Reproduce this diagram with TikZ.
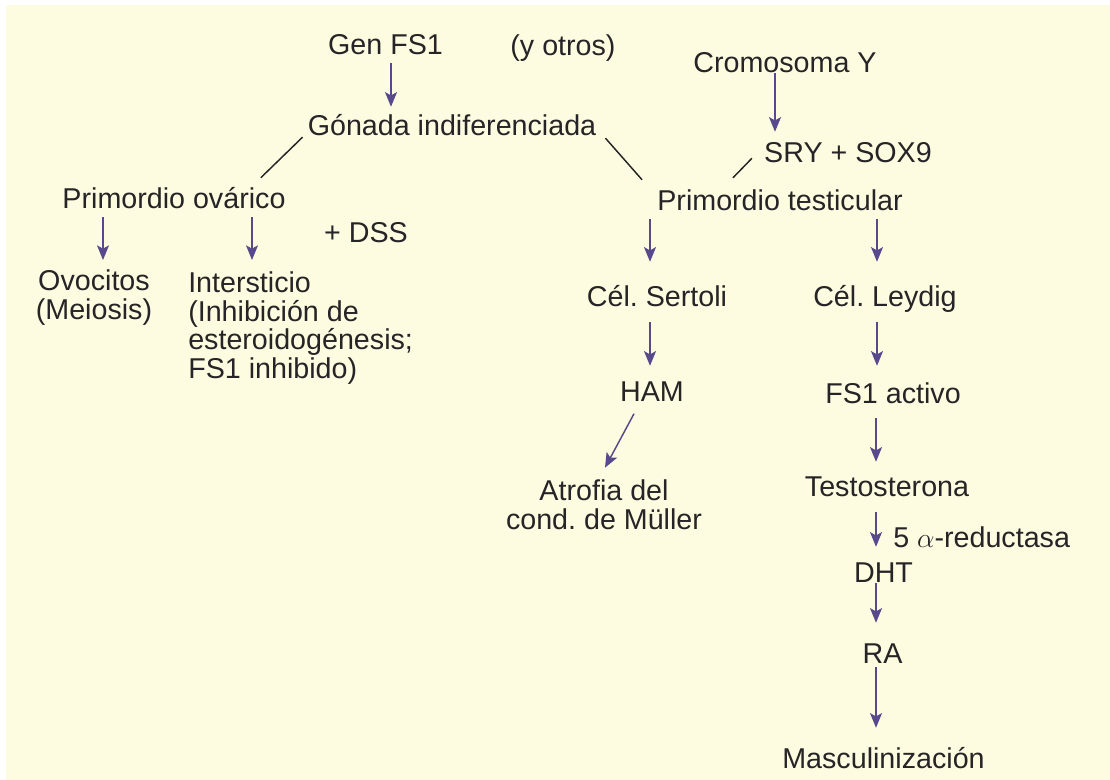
\documentclass[tikz,border=0pt]{standalone}
\usepackage{fontspec}
\setmainfont{Liberation Sans}
\usetikzlibrary{arrows.meta,calc}

\definecolor{papel}{RGB}{253,252,224}
\definecolor{tinta}{RGB}{38,36,38}
\definecolor{flecha}{RGB}{88,72,140}

\begin{document}
\frenchspacing
\begin{tikzpicture}[x=0.75pt,y=0.75pt,yscale=-1,xscale=1,
  txt/.style={inner sep=0pt,text=tinta,font=\fontsize{21.5}{21.5}\selectfont,text height=15.7pt,text depth=4.5pt},
  txtb/.style={inner sep=0pt,text=tinta,font=\fontsize{21.5}{21.5}\selectfont},
  arr/.style={draw=flecha,line width=1.1pt,-{Stealth[length=11pt,width=9pt,inset=2.5pt]}},
  lnk/.style={draw=tinta,line width=1.1pt}]
\path[use as bounding box] (0,0) rectangle (1110,780);
\fill[white] (0,0) rectangle (1110,780);
\fill[papel] (6,5) rectangle (1110,780);

% Text Node
\node[txt] (gen) at (385.5,47) {Gen FS1};
% Text Node
\node[txt] (otros) at (563,48) {(y otros)};
% Text Node
\node[txt] (cromo) at (785,65) {Cromosoma Y};
% Text Node
\node[txt] (gonada) at (452,128) {Gónada indiferenciada};
% Text Node
\node[txt] (sry) at (848,155) {SRY + SOX9};
% Text Node
\node[txt] (povar) at (174,201) {Primordio ovárico};
% Text Node
\node[txt] (dss) at (366,235) {+ DSS};
% Text Node
\node[txt] (ptest) at (780,203) {Primordio testicular};
% Text Node
\node[txtb,anchor=north,align=center] (ovoc) at (94,269.5) {Ovocitos\\(Meiosis)};
% Text Node
\node[txtb,anchor=north west,align=left] (inter) at (188,271.5) {Intersticio\\(Inhibición de\\esteroidogénesis;\\FS1 inhibido)};
% Text Node
\node[txt] (sertoli) at (657,299) {Cél. Sertoli};
% Text Node
\node[txt] (leydig) at (885,299) {Cél. Leydig};
% Text Node
\node[txt] (ham) at (652,394) {HAM};
% Text Node
\node[txt] (fsact) at (893,396) {FS1 activo};
% Text Node
\node[txtb,anchor=north,align=center] (atrofia) at (604,479.7) {Atrofia del\\cond. de Müller};
% Text Node
\node[txt] (testo) at (887,489) {Testosterona};
% Text Node
\node[txt,anchor=west] (reduct) at (893,540) {5 $\alpha$-reductasa};
% Text Node
\node[txt] (dht) at (883.5,575) {DHT};
% Text Node
\node[txt] (ra) at (882.5,656) {RA};
% Text Node
\node[txt] (masc) at (883.5,761) {Masculinización};

%Straight Lines
\draw[lnk] ($(gonada.south west)+(-5,-4.5)$) -- ($(povar.north east)+(-25,-9.5)$);
\draw[lnk] ($(gonada.south east)+(9,-3.5)$) -- ($(ptest.north west)+(-15,-9.5)$);
\draw[lnk] ($(sry.south west)+(-12,-10.5)$) -- ($(ptest.north)+(-47,-11.5)$);
\draw[arr] ($(ham.south)+(-18,6)$) -- ($(atrofia.north)+(1,-12)$);

%Arrows
\draw[arr] ($(gen.south)+(5.5,2.5)$) -- ($(gen.south |- gonada.north)+(5.5,-7.5)$);
\draw[arr] ($(cromo.south)+(-10,-5.5)$) -- ($(cromo.south |- sry.north)+(-10,-9.5)$);
\draw[arr] ($(ovoc.north |- povar.south)+(9,2.5)$) -- ($(ovoc.north)+(9,-9.5)$);
\draw[arr] ($(inter.north west |- povar.south)+(64,2.5)$) -- ($(inter.north west)+(64,-11.5)$);
\draw[arr] ($(sertoli.north |- ptest.south)+(-7,2.5)$) -- ($(sertoli.north)+(-7,-23.5)$);
\draw[arr] ($(leydig.north |- ptest.south)+(-8,2.5)$) -- ($(leydig.north)+(-8,-23.5)$);
\draw[arr] ($(sertoli.south)+(-7,9.5)$) -- ($(sertoli.south |- ham.north)+(-7,-14.5)$);
\draw[arr] ($(leydig.south)+(-8,9.5)$) -- ($(leydig.south |- fsact.north)+(-8,-16.5)$);
\draw[arr] ($(fsact.south)+(-17,8.5)$) -- ($(fsact.south |- testo.north)+(-17,-13.5)$);
\draw[arr] ($(testo.south)+(-11,9.5)$) -- ($(testo.south |- dht.north)+(-11,-14.5)$);
\draw[arr] ($(dht.south)+(-7.5,-5.5)$) -- ($(dht.south |- ra.north)+(-7.5,-19.5)$);
\draw[arr] ($(ra.south)+(-6.5,-2.5)$) -- ($(ra.south |- masc.north)+(-6.5,-19.5)$);

\end{tikzpicture}
\end{document}
